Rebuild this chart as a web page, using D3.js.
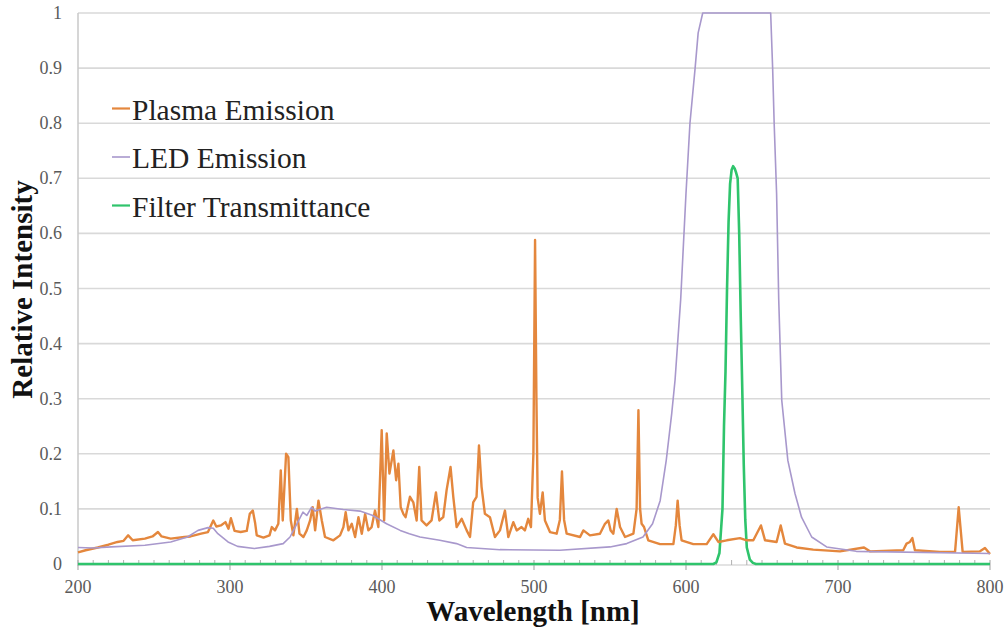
<!DOCTYPE html>
<html>
<head>
<meta charset="utf-8">
<script src="https://cdn.jsdelivr.net/npm/d3@7"></script>
<style>
  body { margin: 0; background: #fff; }
  text { font-family: "Times New Roman", "Liberation Serif", serif; }
</style>
</head>
<body>
<div id="chart"></div>
<script>
// plasma emission spectrum (wavelength nm, relative intensity)
var plasmaNm = [200, 205, 213, 220, 226, 230, 233, 236, 244, 249, 252.6, 255, 261, 270, 274, 281, 285.5, 289, 291, 294, 297, 299, 300.6, 303, 307, 311, 313, 315, 316.5, 317.6, 322, 326, 327.5, 329.6, 331.8, 333.4, 334.7, 336.9, 338.4, 340, 341.7, 344, 345.7, 348.3, 350.5, 352.7, 354.4, 356, 358.2, 360.4, 362.5, 368, 372.4, 374.6, 376.1, 377.9, 380.1, 382.3, 384.5, 386.7, 388.9, 391, 393.2, 395.4, 397.6, 399.8, 401.4, 403.1, 404.9, 407.5, 409.3, 410.8, 412.3, 414.2, 415.5, 418.4, 420.6, 422.8, 424.5, 426, 429.3, 432.6, 435.5, 437.7, 440.3, 442.5, 445.1, 446.9, 449.1, 452.4, 455.7, 457.9, 460, 462.2, 463.8, 465.5, 467.7, 471, 474.3, 477.6, 480.9, 483.1, 486.4, 488.6, 491.8, 494, 496.2, 498, 499.6, 500.7, 501.6, 502.4, 503.9, 505.7, 507.2, 510.5, 514.9, 517, 518.4, 519.8, 521.5, 530.3, 532.5, 536.8, 543.4, 546.7, 548.9, 550.4, 552.2, 554.4, 556.6, 559.9, 565.4, 567.5, 568.7, 569.8, 570.8, 572.4, 575.2, 582.9, 591.7, 593.3, 594.5, 595.8, 597.1, 604.8, 613.6, 618, 621.3, 626.8, 635.5, 639.9, 644.3, 649.3, 652, 659.6, 662.3, 665.1, 672.8, 683.7, 701.3, 717.1, 721, 742.9, 745.1, 747.3, 748.9, 750.6, 767, 777, 779.4, 782, 793.4, 796.7, 800];
var plasmaVal = [0.021, 0.025, 0.03, 0.035, 0.04, 0.042, 0.052, 0.043, 0.046, 0.05, 0.058, 0.05, 0.046, 0.049, 0.05, 0.055, 0.058, 0.079, 0.068, 0.07, 0.076, 0.064, 0.083, 0.06, 0.058, 0.06, 0.091, 0.097, 0.075, 0.052, 0.048, 0.052, 0.067, 0.061, 0.073, 0.17, 0.079, 0.2, 0.194, 0.079, 0.052, 0.1, 0.055, 0.049, 0.061, 0.079, 0.103, 0.061, 0.115, 0.079, 0.049, 0.043, 0.052, 0.067, 0.094, 0.061, 0.073, 0.049, 0.085, 0.055, 0.091, 0.061, 0.067, 0.097, 0.067, 0.243, 0.079, 0.237, 0.164, 0.206, 0.152, 0.182, 0.103, 0.09, 0.085, 0.122, 0.112, 0.079, 0.176, 0.079, 0.07, 0.079, 0.13, 0.079, 0.085, 0.134, 0.176, 0.122, 0.067, 0.082, 0.061, 0.049, 0.112, 0.122, 0.215, 0.14, 0.091, 0.085, 0.049, 0.061, 0.097, 0.049, 0.076, 0.061, 0.067, 0.061, 0.082, 0.067, 0.2, 0.588, 0.3, 0.12, 0.091, 0.13, 0.079, 0.058, 0.055, 0.08, 0.168, 0.08, 0.055, 0.049, 0.061, 0.052, 0.055, 0.073, 0.079, 0.061, 0.055, 0.1, 0.067, 0.049, 0.055, 0.1, 0.279, 0.1, 0.073, 0.067, 0.043, 0.036, 0.036, 0.07, 0.115, 0.07, 0.043, 0.036, 0.036, 0.054, 0.04, 0.043, 0.047, 0.043, 0.043, 0.07, 0.043, 0.04, 0.07, 0.037, 0.03, 0.026, 0.023, 0.03, 0.023, 0.025, 0.037, 0.04, 0.047, 0.025, 0.022, 0.022, 0.103, 0.022, 0.023, 0.029, 0.018];

// LED emission
var ledNm = [200, 210, 222, 244, 261, 272, 279, 285.5, 289, 292, 298.7, 305, 316, 326, 335, 339.5, 344, 348, 350.5, 353.7, 356, 360, 363.6, 374.5, 385.5, 394, 403, 412, 418, 425, 438, 449, 455.7, 477.6, 517, 550, 561, 571.7, 578, 583, 587, 590.6, 592.8, 596.5, 600, 602.6, 606, 608, 611, 655.7, 657, 658, 659.6, 661, 663, 667, 671.7, 676, 682.7, 692.5, 712, 800];
var ledVal = [0.03, 0.029, 0.031, 0.034, 0.04, 0.049, 0.061, 0.066, 0.065, 0.055, 0.04, 0.032, 0.028, 0.032, 0.037, 0.049, 0.073, 0.094, 0.088, 0.103, 0.096, 0.1, 0.103, 0.099, 0.096, 0.088, 0.073, 0.061, 0.055, 0.049, 0.043, 0.037, 0.03, 0.026, 0.025, 0.031, 0.037, 0.049, 0.073, 0.115, 0.188, 0.273, 0.334, 0.48, 0.673, 0.8, 0.9, 0.964, 1.0, 1.0, 0.9, 0.8, 0.673, 0.48, 0.297, 0.188, 0.128, 0.085, 0.049, 0.031, 0.023, 0.019];

// filter transmittance
var filterNm = [200, 618, 620, 622, 624, 625, 626, 627, 628, 629, 630, 631, 632, 633, 634, 635, 636, 637, 638, 639, 640, 642, 644, 646, 800];
var filterVal = [0, 0, 0.003, 0.02, 0.1, 0.25, 0.35, 0.5, 0.62, 0.69, 0.715, 0.722, 0.718, 0.71, 0.7, 0.6, 0.45, 0.32, 0.18, 0.08, 0.03, 0.008, 0.002, 0, 0];

var seriesNames = ['Plasma Emission', 'LED Emission', 'Filter Transmittance'];
var seriesColors = ['#e4873d', '#a898cc', '#2fc46c'];
var seriesWidths = [2.4, 1.6, 2.6];

var xTicks = [200, 300, 400, 500, 600, 700, 800];
var yTicks = [0, 0.1, 0.2, 0.3, 0.4, 0.5, 0.6, 0.7, 0.8, 0.9, 1];

var width = 1005, height = 634;
var margin = { left: 78, right: 15, top: 13, bottom: 70 };
var serif = '"Times New Roman", "Liberation Serif", serif';

var x = d3.scaleLinear().domain([200, 800]).range([margin.left, width - margin.right]);
var y = d3.scaleLinear().domain([0, 1]).range([height - margin.bottom, margin.top]);

var svg = d3.select('#chart').append('svg')
  .attr('width', width)
  .attr('height', height)
  .attr('font-family', serif);

// gridlines
svg.append('g').selectAll('line')
    .data(yTicks.slice(1))
  .enter().append('line')
    .attr('x1', x(200))
    .attr('x2', x(800))
    .attr('y1', function (d) { return y(d); })
    .attr('y2', function (d) { return y(d); })
    .attr('stroke', '#d9d9d9')
    .attr('stroke-width', 1.6);

// left axis line
svg.append('line')
  .attr('x1', x(200)).attr('x2', x(200))
  .attr('y1', y(1)).attr('y2', y(0) + 2)
  .attr('stroke', '#c8c8c8').attr('stroke-width', 1.5);

// bottom axis with minor ticks
svg.append('line')
  .attr('x1', x(200)).attr('x2', x(800))
  .attr('y1', y(0) + 1).attr('y2', y(0) + 1)
  .attr('stroke', '#c8c8c8').attr('stroke-width', 1.2);

svg.append('g').selectAll('line')
    .data(d3.range(210, 800, 10).filter(function (d) { return d % 100 !== 0; }))
  .enter().append('line')
    .attr('x1', function (d) { return x(d); })
    .attr('x2', function (d) { return x(d); })
    .attr('y1', y(0) - 4)
    .attr('y2', y(0) + 1)
    .attr('stroke', '#b0b0b0');

svg.append('g').selectAll('line')
    .data(xTicks)
  .enter().append('line')
    .attr('x1', function (d) { return x(d); })
    .attr('x2', function (d) { return x(d); })
    .attr('y1', y(0) - 4)
    .attr('y2', y(0) + 6)
    .attr('stroke', '#b0b0b0')
    .attr('stroke-width', 1.2);

// tick labels
svg.append('g').selectAll('text')
    .data(yTicks)
  .enter().append('text')
    .attr('x', margin.left - 16)
    .attr('y', function (d) { return y(d) + 6; })
    .attr('text-anchor', 'end')
    .attr('font-family', serif)
    .attr('font-size', 18)
    .attr('fill', '#5a5a5a')
    .text(function (d) { return d3.format('~g')(d); });

svg.append('g').selectAll('text')
    .data(xTicks)
  .enter().append('text')
    .attr('x', function (d) { return x(d); })
    .attr('y', y(0) + 29)
    .attr('text-anchor', 'middle')
    .attr('font-family', serif)
    .attr('font-size', 18)
    .attr('fill', '#5a5a5a')
    .text(function (d) { return d; });

// axis titles
svg.append('text')
  .attr('transform', 'translate(32,' + ((y(0) + y(1)) / 2 + 1) + ') rotate(-90)')
  .attr('text-anchor', 'middle')
  .attr('font-family', serif)
  .attr('font-size', 29)
  .attr('font-weight', 'bold')
  .attr('fill', '#111')
  .text('Relative Intensity');

svg.append('text')
  .attr('x', (x(200) + x(800)) / 2 - 1)
  .attr('y', 621)
  .attr('text-anchor', 'middle')
  .attr('font-family', serif)
  .attr('font-size', 29)
  .attr('font-weight', 'bold')
  .attr('fill', '#111')
  .text('Wavelength [nm]');

// series
var line = d3.line()
  .x(function (d) { return x(d[0]); })
  .y(function (d) { return y(d[1]); });

var series = [
  d3.zip(plasmaNm, plasmaVal),
  d3.zip(ledNm, ledVal),
  d3.zip(filterNm, filterVal)
];

[2, 0, 1].forEach(function (i) {
  svg.append('path')
    .datum(series[i])
    .attr('fill', 'none')
    .attr('stroke', seriesColors[i])
    .attr('stroke-width', seriesWidths[i])
    .attr('stroke-linejoin', 'round')
    .attr('d', line);
});

// legend
var legend = svg.append('g').selectAll('g')
    .data(seriesNames)
  .enter().append('g')
    .attr('transform', function (d, i) { return 'translate(112,' + (108.5 + i * 48.5) + ')'; });

legend.append('line')
  .attr('x1', 0).attr('x2', 18)
  .attr('stroke', function (d, i) { return seriesColors[i]; })
  .attr('stroke-width', function (d, i) { return i === 1 ? 1.6 : 2.2; });

legend.append('text')
  .attr('x', 20)
  .attr('y', 11)
  .attr('font-family', serif)
  .attr('font-size', 29.5)
  .attr('fill', '#222')
  .text(function (d) { return d; });
</script>
</body>
</html>
